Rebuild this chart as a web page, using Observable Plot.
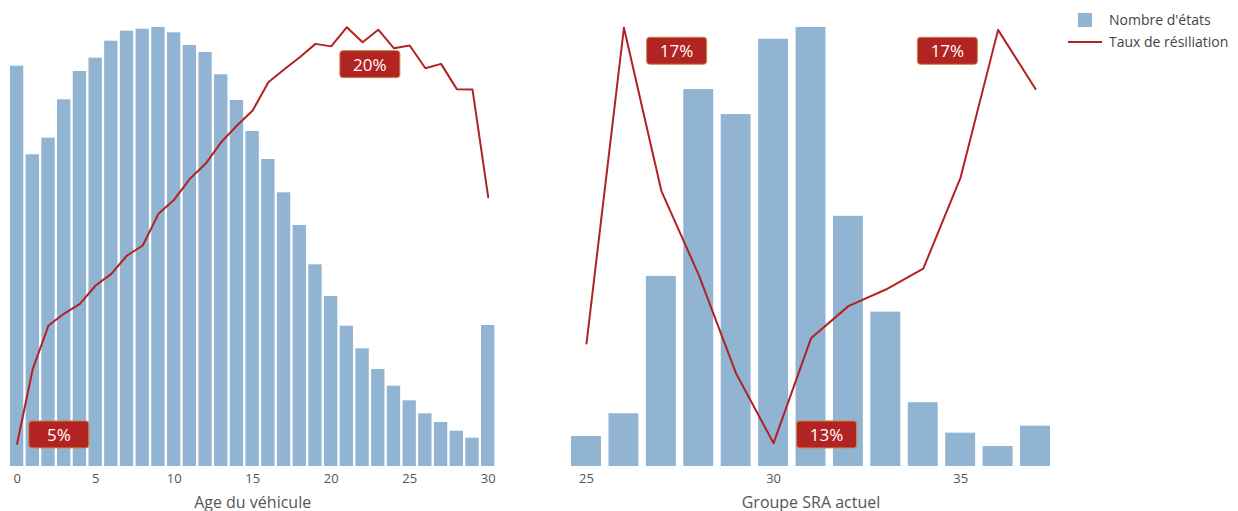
<!DOCTYPE html>
<html>
<head>
<meta charset="utf-8">
<script src="https://cdn.jsdelivr.net/npm/d3@7"></script>
<script src="https://cdn.jsdelivr.net/npm/@observablehq/plot@0.6"></script>
<style>
  html, body { margin: 0; padding: 0; background: #fff; }
  body { font-family: "Open Sans", sans-serif; }
  #chart { position: relative; width: 1238px; height: 511px; overflow: hidden; }
  #chart > svg { position: absolute; left: 0; top: 0; }
  .legend { position: absolute; left: 1068px; top: 9px; font-size: 14px; color: #444; }
  .legend .item { display: flex; align-items: center; height: 21.7px; }
  .legend .item svg { display: block; margin-right: 7px; }
</style>
</head>
<body>
<div id="chart"></div>
<script>
// ---------- DATA ----------
const ageCategories = [0,1,2,3,4,5,6,7,8,9,10,11,12,13,14,15,16,17,18,19,20,21,22,23,24,25,26,27,28,29,30];
const ageCounts = [40030,31170,32830,36670,39500,40830,42530,43530,43730,43900,43370,42100,41400,39170,36600,33500,30700,27370,24100,20170,17000,14030,11770,9700,8030,6570,5270,4400,3530,2830,14100];
const ageRates = [0.0500,0.0770,0.0926,0.0969,0.1004,0.1070,0.1112,0.1178,0.1214,0.1328,0.1379,0.1454,0.1508,0.1586,0.1646,0.1700,0.1802,0.1848,0.1892,0.1940,0.1931,0.2000,0.1946,0.1991,0.1924,0.1934,0.1852,0.1868,0.1777,0.1776,0.1388];
const ageTicks = [0,5,10,15,20,25,30];
const ageLabelled = [0, 21];

const sraCategories = [25,26,27,28,29,30,31,32,33,34,35,36,37];
const sraCounts = [3000,5270,19000,37670,35170,42700,43870,25000,15430,6370,3330,2000,4030];
const sraRates = [0.1396,0.1700,0.1543,0.1462,0.1367,0.1300,0.1401,0.1432,0.1448,0.1468,0.1556,0.1698,0.1641];
const sraTicks = [25,30,35];
const sraLabelled = [26, 30, 36];

const axisTitles = ["Age du véhicule", "Groupe SRA actuel"];
const legendLabels = ["Nombre d'états", "Taux de résiliation"];

// ---------- STYLE / LAYOUT ----------
const W = 1238, H = 511;
const barColor = "#90b4d2";
const lineColor = "#b22222";
const pct = d3.format(".0%");

const panels = [
  {
    cats: ageCategories, counts: ageCounts, rates: ageRates, ticks: ageTicks,
    labelled: ageLabelled, title: axisTitles[0],
    barRange: [8.75, 495.55], pInner: 0.15, pOuter: 0.075,
    lineRange: [16.6, 487.7],
    rateDomain: [0.05, 0.20], rateRange: [443.3, 26.7],
    offsets: [[41.7, -8.3], [23, 38]]
  },
  {
    cats: sraCategories, counts: sraCounts, rates: sraRates, ticks: sraTicks,
    labelled: sraLabelled, title: axisTitles[1],
    barRange: [567.3, 1053.7], pInner: 0.2, pOuter: 0.1,
    lineRange: [586, 1035],
    rateDomain: [0.13, 0.17], rateRange: [442.7, 27.3],
    offsets: [[52.7, 24], [53, -7.7], [-50.7, 22]]
  }
];

const chart = document.getElementById("chart");

for (const p of panels) {
  const rows = p.cats.map((c, i) => ({cat: c, count: p.counts[i], rate: p.rates[i]}));

  const bars = Plot.plot({
    width: W, height: H,
    marginTop: 27, marginBottom: 45,
    marginLeft: p.barRange[0], marginRight: W - p.barRange[1],
    style: {background: "transparent", fontFamily: "'Open Sans', sans-serif", overflow: "visible"},
    x: {type: "band", domain: p.cats, paddingInner: p.pInner, paddingOuter: p.pOuter, align: 0.5, round: false},
    y: {domain: [0, d3.max(p.counts)], axis: null},
    marks: [
      Plot.barY(rows, {x: "cat", y: "count", fill: barColor}),
      Plot.axisX({ticks: p.ticks, tickSize: 0, tickPadding: 7, fontSize: 13, color: "#555", label: null}),
      Plot.axisX({ticks: [], tickSize: 0, label: p.title, labelAnchor: "center", labelArrow: "none", labelOffset: 41, fontSize: 16, color: "#555"})
    ]
  });
  chart.appendChild(bars);

  const labelMarks = p.labelled.map((c, k) =>
    Plot.text(rows.filter(d => d.cat === c), {
      x: "cat", y: "rate", text: d => pct(d.rate),
      dx: p.offsets[k][0], dy: p.offsets[k][1],
      fill: "white", fontSize: 17, textAnchor: "middle", lineAnchor: "middle"
    })
  );

  const line = Plot.plot({
    width: W, height: H, margin: 0,
    style: {background: "transparent", fontFamily: "'Open Sans', sans-serif", overflow: "visible"},
    x: {type: "linear", domain: [p.cats[0], p.cats[p.cats.length - 1]], range: p.lineRange, axis: null},
    y: {domain: p.rateDomain, range: p.rateRange, axis: null},
    marks: [
      Plot.line(rows, {x: "cat", y: "rate", stroke: lineColor, strokeWidth: 2}),
      ...labelMarks
    ]
  });
  chart.appendChild(line);

  // rounded boxes behind the rate labels
  line.querySelectorAll("text").forEach(t => {
    const bb = t.getBBox();
    const r = document.createElementNS("http://www.w3.org/2000/svg", "rect");
    const bw = 60, bh = 27;
    r.setAttribute("x", bb.x + bb.width / 2 - bw / 2);
    r.setAttribute("y", bb.y + bb.height / 2 - bh / 2);
    r.setAttribute("width", bw);
    r.setAttribute("height", bh);
    r.setAttribute("rx", 3);
    r.setAttribute("fill", "#b22424");
    r.setAttribute("stroke", "#c8893f");
    r.setAttribute("stroke-width", 1);
    if (t.getAttribute("transform")) r.setAttribute("transform", t.getAttribute("transform"));
    t.parentNode.insertBefore(r, t);
  });
}

// legend
const legend = document.createElement("div");
legend.className = "legend";
legendLabels.forEach((lab, i) => {
  const item = document.createElement("div");
  item.className = "item";
  const sw = i === 0
    ? `<svg width="34" height="20"><rect x="10" y="3" width="14" height="14" fill="${barColor}"/></svg>`
    : `<svg width="34" height="20"><line x1="0" x2="34" y1="10" y2="10" stroke="${lineColor}" stroke-width="2"/></svg>`;
  item.innerHTML = sw + `<span>${lab}</span>`;
  legend.appendChild(item);
});
chart.appendChild(legend);
</script>
</body>
</html>
